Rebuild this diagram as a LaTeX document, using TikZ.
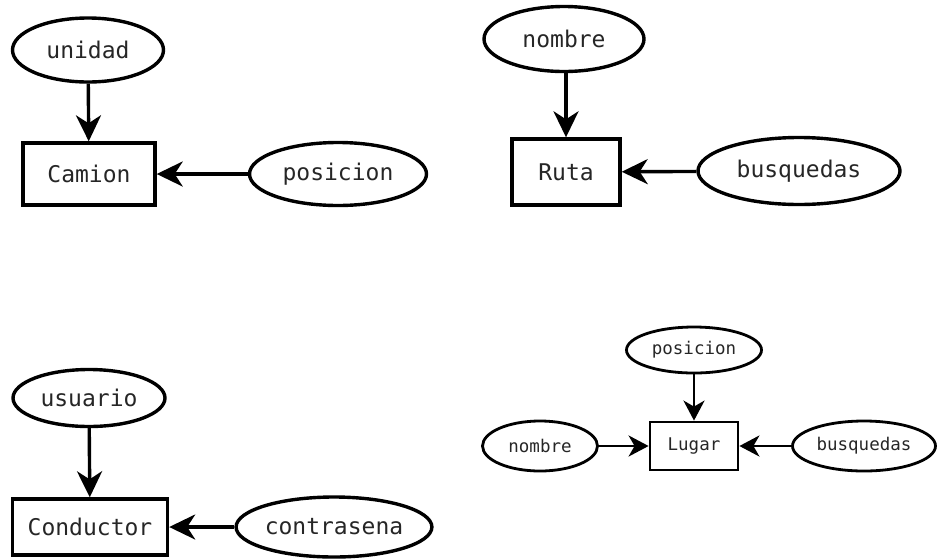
\documentclass[tikz,border=0pt]{standalone}
\usepackage{fontspec}
\newfontfamily\monofam{DejaVu Sans Mono}
\usetikzlibrary{arrows.meta,shapes.geometric}
\begin{document}
\begin{tikzpicture}[x=1pt,y=-1pt,
  attr/.style={ellipse,draw,line width=3.4pt,inner sep=0pt,font=\monofam\fontsize{23}{27}\selectfont,text=black!85},
  ent/.style={rectangle,draw,line width=3.4pt,inner sep=0pt,font=\monofam\fontsize{23}{27}\selectfont,text=black!85},
  link/.style={line width=3.4pt,-{Stealth[length=26pt,width=25pt,inset=8pt]}},
  sattr/.style={attr,line width=2.8pt,font=\monofam\fontsize{17.5}{21}\selectfont},
  sent/.style={ent,line width=2.8pt,font=\monofam\fontsize{17.5}{21}\selectfont},
  slink/.style={line width=2.9pt,-{Stealth[length=20pt,width=21pt,inset=6pt]}}]
\useasboundingbox (0,0) rectangle (937,558);

% Camion
\node[attr,minimum width=151pt,minimum height=64pt] (unidad) at (88,50) {unidad};
\node[ent,minimum width=132pt,minimum height=62pt] (camion) at (89,174) {Camion};
\node[attr,minimum width=177pt,minimum height=63pt] (posC) at (338,174) {posicion};
\draw[link] (unidad) -- (camion);
\draw[link] (posC) -- (camion);

% Ruta
\node[attr,minimum width=160pt,minimum height=65pt] (nombreR) at (564,39) {nombre};
\node[ent,minimum width=108pt,minimum height=66pt] (ruta) at (566,172) {Ruta};
\node[attr,minimum width=202pt,minimum height=67pt] (busqR) at (799,171) {busquedas};
\draw[link] (nombreR.south -| ruta.north) -- (ruta);
\draw[link] (busqR) -- (ruta);

% Conductor
\node[attr,minimum width=152pt,minimum height=57pt] (usuario) at (89,398) {usuario};
\node[ent,minimum width=155pt,minimum height=56pt] (conductor) at (90,527) {Conductor};
\node[attr,minimum width=188pt,minimum height=60pt] (contra) at (334,527) {contrasena};
\draw[link] (usuario) -- (conductor);
\draw[link] (contra) -- (conductor);

% Lugar
\node[sattr,minimum width=135pt,minimum height=46pt] (posL) at (694,350) {posicion};
\node[sent,minimum width=88pt,minimum height=48pt] (lugar) at (694,446) {Lugar};
\node[sattr,minimum width=115pt,minimum height=50pt] (nombreL) at (540,446) {nombre};
\node[sattr,minimum width=143pt,minimum height=50pt] (busqL) at (864,446) {busquedas};
\draw[slink] (posL) -- (lugar);
\draw[slink] (nombreL) -- (lugar);
\draw[slink] (busqL) -- (lugar);
\end{tikzpicture}
\end{document}
